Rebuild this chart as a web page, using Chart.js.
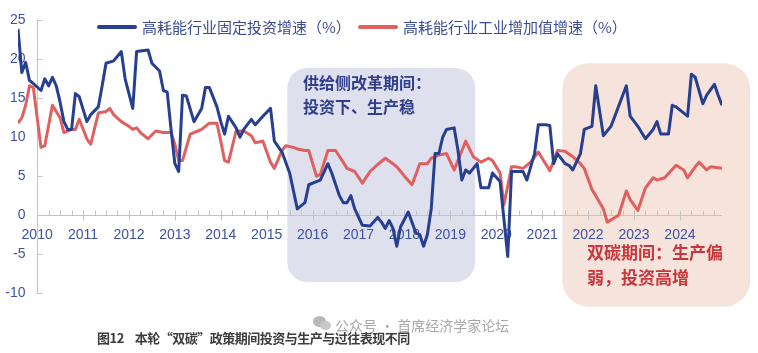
<!DOCTYPE html>
<html><head><meta charset="utf-8">
<script src="https://cdn.jsdelivr.net/npm/chart.js@4.4.1/dist/chart.umd.min.js"></script>
<style>
body{margin:0;background:#fff;}
#wrap{position:relative;width:758px;height:353px;overflow:hidden;font-family:"Noto Sans CJK SC","Noto Sans",sans-serif;}
#c{position:absolute;left:0;top:0;}
.sw{position:absolute;top:25px;width:40px;height:4px;border-radius:2px;}
.lg{position:absolute;top:16px;height:22px;line-height:22px;font-size:15px;color:#3a4b94;white-space:nowrap;}
.note{position:absolute;font-weight:bold;white-space:nowrap;}
#n1{left:303px;top:70px;font-size:16px;line-height:24px;color:#2f3f8c;}
#n2{left:587px;top:239px;font-size:17px;line-height:25px;color:#c9363c;}
#cap{position:absolute;left:97px;top:329px;font-size:13px;line-height:18px;font-weight:bold;color:#3c3c3c;white-space:nowrap;letter-spacing:-0.5px;}
#wm{position:absolute;left:335px;top:315px;font-size:14px;line-height:20px;color:#a8a8a8;white-space:nowrap;}
.ic{position:absolute;border-radius:50%;background:#b8b8b8;}
</style></head>
<body><div id="wrap">
<canvas id="c" width="758" height="353"></canvas>
<div id="legend"></div>
<div class="note" id="n1">供给侧改革期间：<br>投资下、生产稳</div>
<div class="note" id="n2">双碳期间：生产偏<br>弱，投资高增</div>
<div class="ic" style="left:313px;top:316px;width:13px;height:11px;"></div>
<div class="ic" style="left:320px;top:321px;width:11px;height:9px;background:#c8c8c8;"></div>
<div id="wm">公众号 · 首席经济学家论坛</div>
<div id="cap">图12<span style="margin-left:11px">本轮“双碳”政策期间投资与生产与过往表现不同</span></div>
</div>
<script>
const seriesNames = ['高耗能行业固定投资增速（%）', '高耗能行业工业增加值增速（%）'];
const yearLabels = [2010,2011,2012,2013,2014,2015,2016,2017,2018,2019,2020,2021,2022,2023,2024];

const invDates = ['2009-08','2009-09','2009-10','2009-11','2009-12',
'2010-02','2010-03','2010-04','2010-05','2010-06','2010-07','2010-08','2010-09','2010-10','2010-11','2010-12',
'2011-02','2011-03','2011-05','2011-06','2011-07','2011-09','2011-11','2011-12',
'2012-02','2012-03','2012-06','2012-07','2012-09','2012-10','2012-11','2012-12',
'2013-01','2013-02','2013-03','2013-04','2013-06','2013-08','2013-09','2013-10','2013-12',
'2014-01','2014-02','2014-03','2014-05','2014-06','2014-07','2014-09','2014-10','2014-12',
'2015-02','2015-03','2015-05','2015-07','2015-09','2015-11','2015-12',
'2016-02','2016-03','2016-05','2016-06','2016-08','2016-09','2016-10','2016-11','2016-12',
'2017-02','2017-04','2017-06','2017-07','2017-08','2017-09','2017-10','2017-11','2017-12',
'2018-02','2018-04','2018-05','2018-06','2018-07','2018-08','2018-09','2018-10','2018-11','2018-12',
'2019-02','2019-03','2019-04','2019-05','2019-06','2019-07','2019-08','2019-09','2019-11','2019-12',
'2020-02','2020-04','2020-05','2020-08','2020-09','2020-11','2020-12',
'2021-02','2021-03','2021-04','2021-05','2021-07','2021-08','2021-09','2021-11','2021-12',
'2022-02','2022-03','2022-05','2022-07','2022-11','2022-12',
'2023-02','2023-04','2023-06','2023-07','2023-08','2023-10','2023-11','2023-12',
'2024-03','2024-04','2024-05','2024-07','2024-08','2024-10','2024-11','2024-12'];
const invValues = [23.9,18.3,19.6,17.3,16.9,
16.0,17.5,16.6,17.7,16.6,14.5,12.0,11.0,11.0,15.6,15.2,
12.0,12.9,13.9,16.6,19.5,19.8,21.0,17.5,
13.7,21.0,21.2,19.5,18.5,16.0,15.8,11.0,
6.6,5.6,15.4,15.3,12.0,13.7,16.4,16.4,13.9,
12.0,10.4,12.7,11.2,10.0,11.0,12.3,11.6,12.7,
13.7,9.5,8.1,5.4,0.8,1.6,3.9,
4.3,4.5,6.6,5.4,2.5,1.6,1.6,2.5,0.8,
-1.3,-1.4,-0.3,-0.9,-1.7,-0.7,-1.7,-4.0,-1.5,
0.4,-2.3,-2.5,-4.0,-2.5,0.8,7.9,7.9,10.0,11.0,
11.2,8.3,4.5,5.8,5.4,6.0,6.6,3.5,3.5,5.4,
4.3,-5.3,5.6,5.6,4.5,7.9,11.6,
11.6,11.5,6.6,7.9,6.6,6.4,5.8,7.9,11.0,
11.4,16.6,10.2,11.4,16.6,12.7,
11.4,9.8,11.0,12.0,10.4,10.4,14.1,13.9,
12.7,18.1,17.7,14.3,15.4,16.8,15.4,14.1];

const outDates = ['2009-08','2009-09','2009-10','2009-11','2009-12',
'2010-02','2010-03','2010-05','2010-07','2010-08','2010-10','2010-11','2010-12',
'2011-02','2011-03','2011-05','2011-07','2011-08','2011-09','2011-11',
'2012-01','2012-02','2012-03','2012-04','2012-06','2012-08','2012-10','2012-12',
'2013-01','2013-02','2013-03','2013-05','2013-07','2013-08','2013-10','2013-12',
'2014-01','2014-02','2014-03','2014-05','2014-07','2014-09','2014-10','2014-12',
'2015-02','2015-03','2015-05','2015-06','2015-08','2015-09','2015-11','2015-12',
'2016-02','2016-03','2016-05','2016-07','2016-09','2016-10','2016-12',
'2017-02','2017-04','2017-06','2017-08','2017-10','2017-11',
'2018-01','2018-03','2018-05','2018-07','2018-08','2018-10','2018-12',
'2019-02','2019-05','2019-07','2019-09','2019-11','2019-12',
'2020-02','2020-03','2020-05','2020-06','2020-08','2020-10','2020-12',
'2021-03','2021-05','2021-07','2021-09','2021-11','2021-12',
'2022-02','2022-03','2022-05','2022-06','2022-08','2022-09','2022-11','2022-12',
'2023-02','2023-04','2023-06','2023-07','2023-09','2023-12',
'2024-02','2024-03','2024-05','2024-06','2024-08','2024-09','2024-12'];
const outValues = [11.8,12.5,14.1,16.6,16.4,
8.7,8.9,14.1,12.5,10.6,11.0,11.0,12.3,
9.8,9.1,13.1,13.3,13.7,12.9,12.0,
11.4,11.0,11.2,10.6,9.8,10.8,10.6,10.6,
9.1,7.0,7.0,10.4,10.8,11.0,11.8,11.8,
9.5,7.0,6.8,10.8,10.8,10.2,9.3,9.5,
6.8,6.0,8.3,8.9,8.7,8.5,8.3,8.3,
5.0,5.2,8.3,8.3,6.8,6.0,5.6,
4.1,5.6,6.5,7.3,6.6,6.2,
5.0,3.9,6.6,6.6,7.3,7.7,7.9,
5.8,9.5,7.5,6.8,7.3,7.0,
5.4,1.3,6.2,6.2,6.0,6.8,8.1,
5.7,8.3,8.2,7.5,6.6,6.0,
3.3,2.5,0.8,-0.9,-0.3,0.0,3.1,2.0,
0.6,3.5,4.8,4.5,4.8,6.4,
5.8,4.8,6.2,6.8,5.8,6.2,6.0];

function toYear(s){ const p = s.split('-'); return +p[0] + (+p[1]-1)/12; }
function pts(d, v){ return d.map((s,i)=>({x: toYear(s), y: v[i]})); }

const BLUE = '#263f91', RED = '#e0605f';
const AXIS_START = 2010;

// legend (real text)
const lg = document.getElementById('legend');
[[97,142,BLUE,seriesNames[0]],[358,403,RED,seriesNames[1]]].forEach(([sx,tx,col,txt])=>{
  const s=document.createElement('div'); s.className='sw'; s.style.left=sx+'px'; s.style.background=col; lg.appendChild(s);
  const t=document.createElement('div'); t.className='lg'; t.style.left=tx+'px'; t.textContent=txt; lg.appendChild(t);
});

const boxPlugin = {
  id:'boxes',
  beforeDraw(chart, args, opts){
    const {ctx, scales:{x,y}} = chart;
    opts.items.forEach(b=>{
      const x0=x.getPixelForValue(b.x0), x1=x.getPixelForValue(b.x1);
      const y0=y.getPixelForValue(b.y0), y1=y.getPixelForValue(b.y1);
      ctx.save(); ctx.fillStyle=b.color; ctx.beginPath();
      ctx.roundRect(x0,y0,x1-x0,y1-y0,b.r); ctx.fill(); ctx.restore();
    });
  }
};
const tickPlugin = {
  id:'ticks2',
  beforeDatasetsDraw(chart){
    const {ctx, scales:{x,y}} = chart;
    ctx.save(); ctx.strokeStyle='#c4c4c4'; ctx.lineWidth=1;
    const y0 = Math.round(y.getPixelForValue(0))+0.5;
    const xa = Math.round(x.getPixelForValue(AXIS_START))+0.5;
    ctx.beginPath(); ctx.moveTo(xa,y0); ctx.lineTo(x.right,y0); ctx.stroke();
    for(let q=0;q<=59;q++){
      const v = AXIS_START + q/4;
      const px = Math.round(x.getPixelForValue(v))+0.5;
      ctx.beginPath();
      if(q%4===0){ ctx.moveTo(px,y0-5); ctx.lineTo(px,y0+5); }
      else { ctx.moveTo(px,y0-5); ctx.lineTo(px,y0); }
      ctx.stroke();
    }
    for(let v=-10; v<=25; v+=5){
      const py = Math.round(y.getPixelForValue(v))+0.5;
      ctx.beginPath(); ctx.moveTo(xa,py); ctx.lineTo(xa+5,py); ctx.stroke();
    }
    ctx.restore();
  }
};

Chart.defaults.font.family = '"Liberation Sans", Arial, sans-serif';
new Chart(document.getElementById('c'), {
  type:'line',
  data:{ datasets:[
    {label:seriesNames[0], data:pts(invDates,invValues), borderColor:BLUE, borderWidth:3, pointRadius:0, tension:0, borderJoinStyle:'round'},
    {label:seriesNames[1], data:pts(outDates,outValues), borderColor:RED, borderWidth:3, pointRadius:0, tension:0, borderJoinStyle:'round'}
  ]},
  options:{
    responsive:false, animation:false, devicePixelRatio:1,
    layout:{padding:{top:13,bottom:60,right:36,left:18}},
    plugins:{ legend:{display:false}, tooltip:{enabled:false},
      boxes:{items:[
        {x0:2015.45,x1:2019.54,y0:18.9,y1:-8.6,color:'#dfe0ee',r:20},
        {x0:2021.44,x1:2025.53,y0:19.5,y1:-11.75,color:'#f5e3dc',r:26}
      ]}
    },
    scales:{
      x:{ type:'linear', position:{y:0}, min:toYear(invDates[0]), max:toYear(invDates[invDates.length-1]),
        grid:{display:false, drawTicks:false},
        border:{display:false},
        afterBuildTicks:(s)=>{ s.ticks = yearLabels.map(v=>({value:v})); },
        ticks:{ autoSkip:false, maxRotation:0, padding:12, color:'#3d52a0', font:{size:14}, callback:(v)=>String(v) }
      },
      y:{ min:-10, max:25, position:{x:AXIS_START},
        grid:{display:false, drawTicks:false},
        border:{display:true,color:'#c4c4c4',width:1},
        ticks:{ stepSize:5, padding:12, color:'#3d52a0', font:{size:14}, callback:(v)=>String(v)+'   ' }
      }
    }
  },
  plugins:[boxPlugin, tickPlugin]
});
</script>
</body></html>
